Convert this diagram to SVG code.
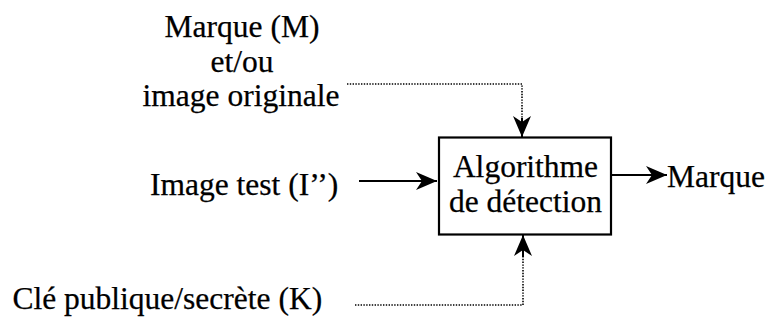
<svg xmlns="http://www.w3.org/2000/svg" width="770" height="323" viewBox="0 0 770 323">
  <style>
    text { font-family: 'Liberation Serif', 'Times New Roman', Times, serif; font-size: 31.5px; fill: #000; stroke: #000; stroke-width: 0.25; }
    .mid { text-anchor: middle; }
    .box { fill: #fff; stroke: #000; stroke-width: 2.2; }
    .solid { fill: none; stroke: #000; stroke-width: 2; }
    .dotted { fill: none; stroke: #000; stroke-width: 1.6; stroke-dasharray: 1.4 1.4; }
  </style>
  <defs>
    <!-- notched, filled arrowhead shared by every connector -->
    <marker id="head" markerUnits="userSpaceOnUse" markerWidth="24" markerHeight="20" refX="21" refY="9" orient="auto">
      <path d="M0,0 L21,9 L0,18 L6,9 Z" fill="#000"/>
    </marker>
  </defs>

  <rect width="770" height="323" fill="#fff"/>

  <!-- connectors -->
  <g id="connectors">
    <!-- watermark / original image: dotted feed down into the top of the box -->
    <path class="dotted" d="M347,84 H522 V122"/>
    <path class="solid" d="M522,118 V137" marker-end="url(#head)"/>
    <!-- test image into the box -->
    <path class="solid" d="M359,181 H437" marker-end="url(#head)"/>
    <!-- detector output -->
    <path class="solid" d="M612,175 H667" marker-end="url(#head)"/>
    <!-- key: dotted feed up into the bottom of the box -->
    <path class="dotted" d="M355,305 H523 V252"/>
    <path class="solid" d="M523,257 V235" marker-end="url(#head)"/>
  </g>

  <g id="detector">
    <rect class="box" x="439" y="137.5" width="172" height="97"/>
    <text class="mid" x="525.5" y="176.5">Algorithme</text>
    <text class="mid" x="525.5" y="212">de détection</text>
  </g>

  <g id="mark-input">
    <text class="mid" x="242" y="37">Marque (M)</text>
    <text class="mid" x="242" y="71.5">et/ou</text>
    <text class="mid" x="241" y="106">image originale</text>
  </g>

  <g id="test-image">
    <text x="150" y="195">Image test (I’’)</text>
  </g>

  <g id="key">
    <text x="12.5" y="309">Clé publique/secrète (K)</text>
  </g>

  <g id="mark-output">
    <text x="667" y="186.5">Marque</text>
  </g>
</svg>
